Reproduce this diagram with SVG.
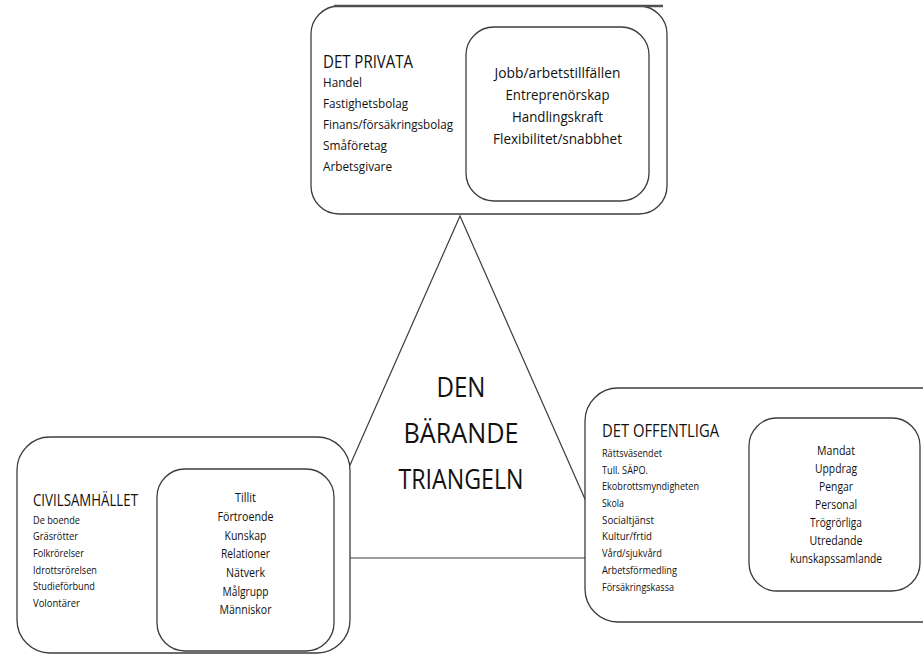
<svg xmlns="http://www.w3.org/2000/svg" width="923" height="655" viewBox="0 0 923 655">
<style>
.box{fill:#fff;stroke:#3c3c3c;stroke-width:1.3}
.tri{fill:none;stroke:#3c3c3c;stroke-width:1.2}
text{font-family:'Open Sans','Liberation Sans',sans-serif;fill:#111}
.ttl{font-size:18px}
.it{font-size:13.5px}
.in{font-size:15px}
.sm{font-size:11px}
.sm2{font-size:12.5px}
.sm3{font-size:12px}
.big{font-size:28px}
.c{text-anchor:middle}
</style>
<rect width="923" height="655" fill="#fff"/>
<g id="connectors">
<polygon class="tri" points="460,216 309,558 611,558"/>
</g>
<g id="det-privata">
<rect class="box" x="311" y="6" width="356" height="208" rx="28"/>
<line x1="334" y1="6" x2="663" y2="6" stroke="#505050" stroke-width="2.6"/>
<text class="ttl" x="323" y="68" textLength="90" lengthAdjust="spacingAndGlyphs">DET PRIVATA</text>
<text class="it" x="323" y="87" textLength="39" lengthAdjust="spacingAndGlyphs">Handel</text>
<text class="it" x="323" y="108" textLength="85" lengthAdjust="spacingAndGlyphs">Fastighetsbolag</text>
<text class="it" x="323" y="129" textLength="130" lengthAdjust="spacingAndGlyphs">Finans/försäkringsbolag</text>
<text class="it" x="323" y="150" textLength="64" lengthAdjust="spacingAndGlyphs">Småföretag</text>
<text class="it" x="323" y="171" textLength="69" lengthAdjust="spacingAndGlyphs">Arbetsgivare</text>
<g id="det-privata-inner">
<rect class="box" x="466" y="27" width="183" height="174" rx="28"/>
<text class="in c" x="557.5" y="78" textLength="126" lengthAdjust="spacingAndGlyphs">Jobb/arbetstillfällen</text>
<text class="in c" x="557.5" y="100" textLength="104" lengthAdjust="spacingAndGlyphs">Entreprenörskap</text>
<text class="in c" x="557.5" y="122" textLength="91" lengthAdjust="spacingAndGlyphs">Handlingskraft</text>
<text class="in c" x="557.5" y="144" textLength="129" lengthAdjust="spacingAndGlyphs">Flexibilitet/snabbhet</text>
</g>
</g>
<g id="triangel-label">
<text class="big c" x="461" y="397" textLength="49" lengthAdjust="spacingAndGlyphs">DEN</text>
<text class="big c" x="461" y="443" textLength="115" lengthAdjust="spacingAndGlyphs">BÄRANDE</text>
<text class="big c" x="461" y="489" textLength="125" lengthAdjust="spacingAndGlyphs">TRIANGELN</text>
</g>
<g id="civilsamhallet">
<rect class="box" x="17" y="437" width="333" height="216" rx="33"/>
<text class="ttl" x="33" y="506" style="font-size:16.5px" textLength="105" lengthAdjust="spacingAndGlyphs">CIVILSAMHÄLLET</text>
<text class="sm" x="33" y="524" textLength="47" lengthAdjust="spacingAndGlyphs">De boende</text>
<text class="sm" x="33" y="540" textLength="45" lengthAdjust="spacingAndGlyphs">Gräsrötter</text>
<text class="sm" x="33" y="557" textLength="51" lengthAdjust="spacingAndGlyphs">Folkrörelser</text>
<text class="sm" x="33" y="574" textLength="64" lengthAdjust="spacingAndGlyphs">Idrottsrörelsen</text>
<text class="sm" x="33" y="590" textLength="62" lengthAdjust="spacingAndGlyphs">Studieförbund</text>
<text class="sm" x="33" y="607" textLength="47" lengthAdjust="spacingAndGlyphs">Volontärer</text>
<g id="civilsamhallet-inner">
<rect class="box" x="157" y="469" width="177" height="182" rx="28"/>
<text class="sm2 c" x="245.5" y="502" textLength="21" lengthAdjust="spacingAndGlyphs">Tillit</text>
<text class="sm2 c" x="245.5" y="521" textLength="56" lengthAdjust="spacingAndGlyphs">Förtroende</text>
<text class="sm2 c" x="245.5" y="540" textLength="42" lengthAdjust="spacingAndGlyphs">Kunskap</text>
<text class="sm2 c" x="245.5" y="558" textLength="49" lengthAdjust="spacingAndGlyphs">Relationer</text>
<text class="sm2 c" x="245.5" y="577" textLength="39" lengthAdjust="spacingAndGlyphs">Nätverk</text>
<text class="sm2 c" x="245.5" y="596" textLength="46" lengthAdjust="spacingAndGlyphs">Målgrupp</text>
<text class="sm2 c" x="245.5" y="614" textLength="52" lengthAdjust="spacingAndGlyphs">Människor</text>
</g>
</g>
<g id="det-offentliga">
<rect class="box" x="585" y="388" width="370" height="234" rx="33"/>
<text class="ttl" x="602" y="437" textLength="117" lengthAdjust="spacingAndGlyphs">DET OFFENTLIGA</text>
<text class="sm" x="602" y="457" textLength="60" lengthAdjust="spacingAndGlyphs">Rättsväsendet</text>
<text class="sm" x="602" y="474" textLength="46" lengthAdjust="spacingAndGlyphs">Tull. SÄPO.</text>
<text class="sm" x="602" y="490" textLength="97" lengthAdjust="spacingAndGlyphs">Ekobrottsmyndigheten</text>
<text class="sm" x="602" y="507" textLength="22" lengthAdjust="spacingAndGlyphs">Skola</text>
<text class="sm" x="602" y="524" textLength="52" lengthAdjust="spacingAndGlyphs">Socialtjänst</text>
<text class="sm" x="602" y="540" textLength="50" lengthAdjust="spacingAndGlyphs">Kultur/frtid</text>
<text class="sm" x="602" y="557" textLength="60" lengthAdjust="spacingAndGlyphs">Vård/sjukvård</text>
<text class="sm" x="602" y="574" textLength="75" lengthAdjust="spacingAndGlyphs">Arbetsförmedling</text>
<text class="sm" x="602" y="591" textLength="72" lengthAdjust="spacingAndGlyphs">Försäkringskassa</text>
<g id="det-offentliga-inner">
<rect class="box" x="749" y="418" width="171" height="173" rx="28"/>
<text class="sm3 c" x="836" y="455" textLength="38" lengthAdjust="spacingAndGlyphs">Mandat</text>
<text class="sm3 c" x="836" y="473" textLength="42" lengthAdjust="spacingAndGlyphs">Uppdrag</text>
<text class="sm3 c" x="836" y="491" textLength="34" lengthAdjust="spacingAndGlyphs">Pengar</text>
<text class="sm3 c" x="836" y="509" textLength="42" lengthAdjust="spacingAndGlyphs">Personal</text>
<text class="sm3 c" x="836" y="527" textLength="52" lengthAdjust="spacingAndGlyphs">Trögrörliga</text>
<text class="sm3 c" x="836" y="545" textLength="53" lengthAdjust="spacingAndGlyphs">Utredande</text>
<text class="sm3 c" x="836" y="563" textLength="92" lengthAdjust="spacingAndGlyphs">kunskapssamlande</text>
</g>
</g>
</svg>
